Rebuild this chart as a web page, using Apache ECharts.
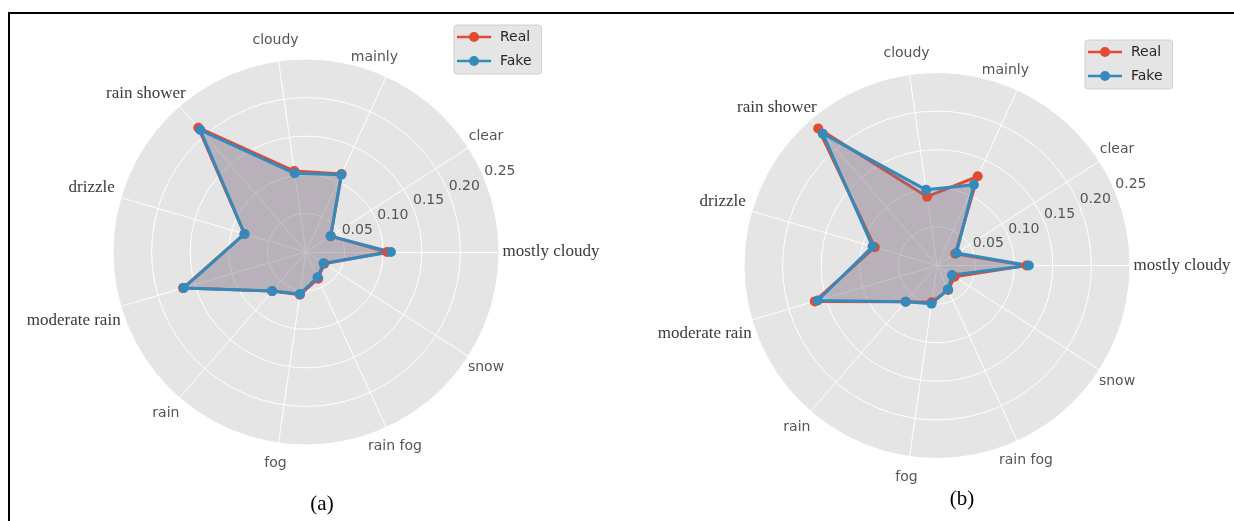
<!DOCTYPE html>
<html>
<head>
<meta charset="utf-8">
<script src="https://cdn.jsdelivr.net/npm/echarts@6/dist/echarts.min.js"></script>
<style>
  html, body { margin: 0; padding: 0; background: #ffffff; }
  #frame { position: absolute; left: 8px; top: 12px; width: 1226px; height: 509px;
           border-top: 2px solid #000; border-left: 2px solid #000; box-sizing: border-box; }
  #chart { position: absolute; left: 0; top: 0; width: 1234px; height: 521px; }
</style>
</head>
<body>
<div id="frame"></div>
<div id="chart"></div>
<script>
// Weather categories, counter-clockwise from 3 o'clock
const categories = ['mostly cloudy', 'clear', 'mainly', 'cloudy', 'rain shower', 'drizzle',
                    'moderate rain', 'rain', 'fog', 'rain fog', 'snow'];
const radialTicks = [0.05, 0.10, 0.15, 0.20, 0.25];
const seriesNames = ['Real', 'Fake'];
const panelCaptions = ['(a)', '(b)'];

// Panel (a)
const realA = [0.105, 0.038, 0.111, 0.106, 0.213, 0.083, 0.166, 0.067, 0.056, 0.038, 0.028];
const fakeA = [0.110, 0.038, 0.110, 0.103, 0.209, 0.083, 0.165, 0.067, 0.055, 0.036, 0.027];
// Panel (b)
const realB = [0.116, 0.028, 0.127, 0.090, 0.235, 0.084, 0.165, 0.062, 0.048, 0.035, 0.027];
const fakeB = [0.119, 0.030, 0.115, 0.099, 0.226, 0.087, 0.161, 0.062, 0.050, 0.034, 0.023];

const RED = '#E24A33';
const BLUE = '#348ABD';
const R = 193;
const panels = [
  { center: [306, 252], legend: { left: 454, top: 25 }, caption: { x: 317, y: 489 }, real: realA, fake: fakeA },
  { center: [937, 265.5], legend: { left: 1085, top: 40 }, caption: { x: 957, y: 484 }, real: realB, fake: fakeB }
];

// per-name label styles: serif names and a couple of nudged placements
const labelStyle = {
  'mostly cloudy': 'mc',
  'rain shower': 'rs',
  'drizzle': 'dz',
  'moderate rain': 'mr',
  'mainly': 'ml'
};
const sansBase = { fontFamily: 'DejaVu Sans', fontSize: 14, color: '#555555' };
const serifBase = { fontFamily: 'Liberation Serif', fontSize: 17, color: '#3a3a3a' };
const nameRich = {
  sans: Object.assign({}, sansBase),
  ml: Object.assign({ padding: [0, 41, 0, 0] }, sansBase),
  mc: Object.assign({ padding: [0, 0, 0, 62] }, serifBase),
  rs: Object.assign({ padding: [7, 40, 0, 0] }, serifBase),
  dz: Object.assign({ padding: [0, 18, 8, 0] }, serifBase),
  mr: Object.assign({ padding: [16, 54, 0, 0] }, serifBase)
};

const maxR = radialTicks[radialTicks.length - 1];
const step = radialTicks[0];
const legendIcon = 'path://M0,3.8 H34 V6.2 H0 Z M22,5 A5,5 0 1,1 12,5 A5,5 0 1,1 22,5 Z';

const option = {
  animation: false,
  backgroundColor: 'transparent',
  title: panels.map((p, i) => ({
    text: panelCaptions[i],
    left: p.caption.x,
    top: p.caption.y,
    textAlign: 'center',
    textStyle: { fontFamily: 'Liberation Serif', fontSize: 21, fontWeight: 'normal', color: '#000' }
  })),
  legend: panels.map(p => ({
    data: seriesNames,
    orient: 'vertical',
    left: p.legend.left,
    top: p.legend.top,
    padding: [5, 10, 6, 3],
    itemGap: 10,
    itemWidth: 34,
    itemHeight: 10,
    icon: legendIcon,
    backgroundColor: '#E5E5E5',
    borderColor: '#d0d0d0',
    borderWidth: 1,
    borderRadius: 3,
    textStyle: { fontFamily: 'DejaVu Sans', fontSize: 14, color: '#262626', padding: [0, 0, 0, 4] }
  })),
  radar: panels.map(p => ({
    center: p.center,
    radius: R,
    startAngle: 0,
    shape: 'circle',
    splitNumber: radialTicks.length,
    z: 0,
    indicator: categories.map(c => ({ name: c, min: 0, max: maxR })),
    axisName: {
      formatter: name => '{' + (labelStyle[name] || 'sans') + '|' + name + '}',
      rich: nameRich,
      align: 'center',
      verticalAlign: 'middle'
    },
    nameGap: 21,
    axisLine: { lineStyle: { color: '#ffffff', width: 1 } },
    axisTick: { show: false },
    axisLabel: { show: false },
    splitLine: { lineStyle: { color: '#ffffff', width: 1 } },
    splitArea: { areaStyle: { color: ['#E5E5E5'] } }
  })),
  polar: panels.map(p => ({ center: p.center, radius: R })),
  angleAxis: panels.map((p, i) => ({
    polarIndex: i, type: 'value', min: 0, max: 360, startAngle: 22.5, show: false
  })),
  radiusAxis: panels.map((p, i) => ({
    polarIndex: i,
    type: 'value',
    min: 0,
    max: maxR,
    interval: step,
    z: 3,
    axisLine: { show: false },
    axisTick: { show: false },
    splitLine: { show: false },
    axisLabel: {
      margin: 0,
      align: 'left',
      verticalAlign: 'bottom',
      fontFamily: 'DejaVu Sans',
      fontSize: 14,
      color: '#555555',
      formatter: v => (v === 0 ? '' : v.toFixed(2))
    }
  })),
  series: []
};

panels.forEach((p, i) => {
  [[seriesNames[0], p.real, RED, 'rgba(226,74,51,0.25)'],
   [seriesNames[1], p.fake, BLUE, 'rgba(52,138,189,0.25)']].forEach(([name, vals, col, fill]) => {
    option.series.push({
      type: 'radar',
      name: name,
      radarIndex: i,
      z: 2,
      symbol: 'circle',
      symbolSize: 10,
      lineStyle: { color: col, width: 3 },
      itemStyle: { color: col },
      areaStyle: { color: fill, opacity: 1 },
      data: [{ name: name, value: vals }]
    });
  });
});

const chart = echarts.init(document.getElementById('chart'), null, { renderer: 'canvas' });
chart.setOption(option);
</script>
</body>
</html>
